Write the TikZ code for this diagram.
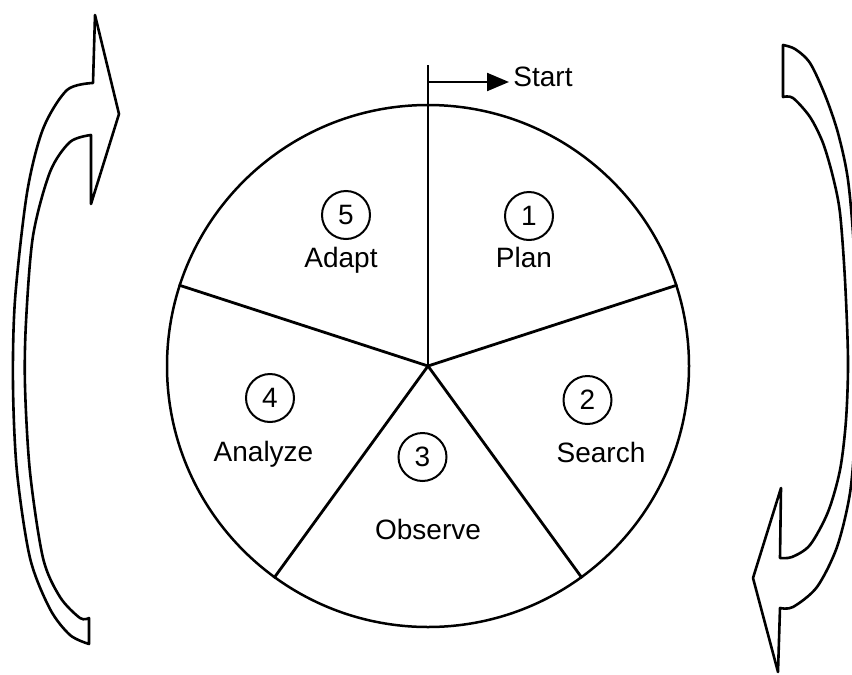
\documentclass[tikz,border=0pt]{standalone}
\usepackage{fontspec}
\setmainfont{Liberation Sans}
\usetikzlibrary{arrows.meta}
\begin{document}
\begin{tikzpicture}[x=0.5pt,y=-0.5pt,
  lbl/.style={font=\fontsize{14}{16}\selectfont, inner sep=0pt, anchor=base},
  num/.style={circle, draw, line width=1pt, minimum size=24pt, inner sep=0pt, font=\fontsize{14}{16}\selectfont},
  rim/.style={line width=1.25pt},
  spoke/.style={line width=1.4pt},
  bigarrow/.style={line width=1.3pt, line join=round}]
\useasboundingbox (0,0) rectangle (852,675);
% wheel
\coordinate (c) at (428,366);
\node[circle, draw, rim, minimum size=261pt, inner sep=0pt] (wheel) at (c) {};
\coordinate (stop) at (428,65);
\draw[spoke] (c) -- (stop);
\draw[spoke] (c) -- (wheel.18);
\draw[spoke] (c) -- (wheel.162);
\draw[spoke] (c) -- (wheel.234);
\draw[spoke] (c) -- (wheel.306);
% start arrow
\coordinate (bar) at (428,82);
\node[lbl, anchor=base west, inner sep=2pt] (start) at (509,86) {Start};
\draw[line width=1.1pt, -{Triangle[length=11pt,width=9pt]}] (bar) -- (bar -| start.west);
% segment labels
\node[num] (n5) at (346,215) {5};
\node[lbl] (adapt) at (341,267) {Adapt};
\node[num] (n1) at (529,216) {1};
\node[lbl] (plan) at (524,267) {Plan};
\node[num] (n2) at (587.5,400) {2};
\node[lbl] (search) at (601,462) {Search};
\node[num] (n4) at (270,398) {4};
\node[lbl] (analyze) at (263.5,461) {Analyze};
\node[num] (n3) at (422.5,457) {3};
\node[lbl] (observe) at (428,539) {Observe};
% left curved arrow
\draw[bigarrow] (95,15) -- (119,114) -- (91,204) -- (91,135)
  -- plot[smooth] coordinates {(91,135) (70,142) (50,172) (33,236) (26,322) (25,386) (30,472) (43,558) (60,597) (80,618) (89,618)}
  -- (89,644)
  -- plot[smooth] coordinates {(89,644) (70,635) (50,609) (30,558) (17,472) (13,386) (15,300) (27,193) (43,129) (67,90) (93,83)}
  -- cycle;
% right curved arrow
\draw[bigarrow] (783,45) -- (783,97)
  -- plot[smooth] coordinates {(783,97) (793,98) (810,117) (823,143) (833,177) (840,213) (845,280) (848,360) (846,420) (840,470) (828,512) (810,545) (792,557) (780,558)}
  -- (781,488) -- (753,578) -- (778,672) -- (780,608)
  -- plot[smooth] coordinates {(780,608) (793,607) (817,587) (837,547) (850,493) (855,430) (856,340) (854,250) (848,180) (838,133) (825,95) (810,63) (795,49) (783,45)}
  -- cycle;
\end{tikzpicture}
\end{document}
